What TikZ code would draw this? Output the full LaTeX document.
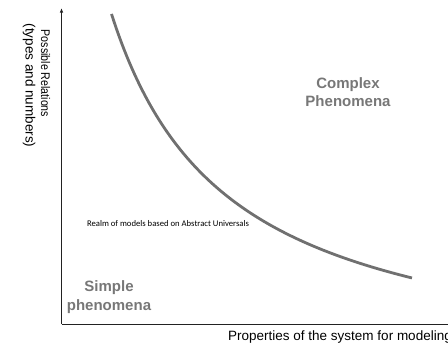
\documentclass[tikz,border=0pt]{standalone}
\usepackage{fontspec}
\setmainfont{Liberation Sans}
\newfontfamily\realmfont{Carlito}
\usetikzlibrary{arrows.meta}
\definecolor{curvegray}{HTML}{707070}
\definecolor{labelgray}{HTML}{777777}
\definecolor{axisgray}{HTML}{222222}
\tikzset{
  axisline/.style={draw=axisgray, line width=0.9pt},
  phen/.style={text=labelgray, font=\fontsize{15}{18.5}\selectfont\bfseries, align=center, inner sep=0pt},
  axlabel/.style={text=black, inner sep=0pt},
}
\begin{document}
\begin{tikzpicture}[x=1pt,y=-1pt]
\useasboundingbox (0,0) rectangle (448,343);
\coordinate (origin) at (61.5,324);
\coordinate (ytip) at (61.5,8);
\coordinate (xend) at (449,324);
\draw[axisline, -{Latex[length=4.5pt,width=3.5pt]}] (origin) -- (ytip);
\draw[axisline] (origin) -- (xend);
\draw[curvegray, line width=2.8pt] plot[domain=111.5:412, samples=120]
  (\x, {381-430.53/((\x+5.8)/100)});
\node[phen] (complex) at (348,92) {Complex\\Phenomena};
\node[phen] (simple) at (109,297) {Simple\\phenomena};
\node[inner sep=0pt] (realm) at (168,224) {\resizebox{162pt}{!}{\realmfont\fontsize{8}{9}\selectfont Realm of models based on Abstract Universals}};
\node[axlabel, anchor=base west, font=\fontsize{13.5}{16}\selectfont] (xlabel) at (228,340.5) {Properties of the system for modeling};
\node[axlabel, rotate=-90] (ylab1) at (45.5,73.5) {\scalebox{0.85}[1]{\fontsize{12.5}{14}\selectfont Possible Relations}};
\node[axlabel, rotate=-90, font=\fontsize{13.5}{16}\selectfont] (ylab2) at (29,85.5) {(types and numbers)};
\end{tikzpicture}
\end{document}
